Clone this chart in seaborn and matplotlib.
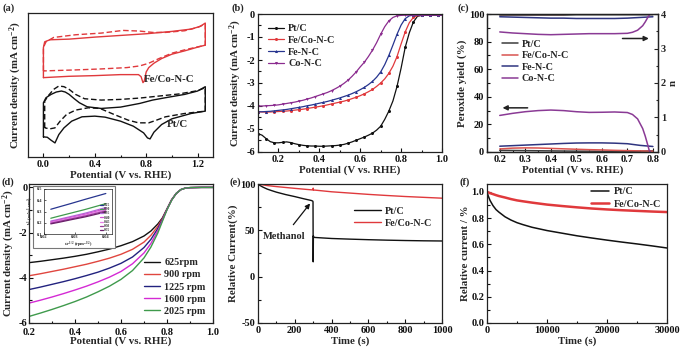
import matplotlib
matplotlib.use("Agg")
import matplotlib.pyplot as plt
import seaborn as sns
from matplotlib.ticker import MultipleLocator
from matplotlib.patches import Rectangle

# ---------------- data ----------------
# (a) cyclic voltammograms (V vs RHE, arbitrary current units)
a_fe_solid_v = [0.00, 0.00, 0.01, 0.05, 0.20, 0.40, 0.60, 0.80, 1.00, 1.15, 1.22, 1.26, 1.26, 1.20, 1.10, 1.00, 0.92,
                0.86, 0.82, 0.80, 0.785, 0.775, 0.76, 0.74, 0.60, 0.40, 0.20, 0.05, 0.00]
a_fe_solid_j = [0.65, 1.55, 1.72, 1.78, 1.80, 1.86, 1.91, 1.96, 2.03, 2.10, 2.18, 2.28, 1.62, 1.56, 1.45, 1.35, 1.22,
                1.08, 0.95, 0.82, 0.55, 0.50, 0.68, 0.74, 0.74, 0.71, 0.69, 0.66, 0.65]
a_fe_dash_v = [0.00, 0.00, 0.02, 0.08, 0.25, 0.45, 0.62, 0.75, 0.85, 0.95, 1.10, 1.20, 1.26, 1.26, 1.10, 1.00, 0.90,
               0.82, 0.75, 0.65, 0.45, 0.25, 0.08, 0.00]
a_fe_dash_j = [0.85, 1.55, 1.72, 1.85, 1.93, 1.98, 2.06, 2.04, 2.00, 2.00, 2.05, 2.15, 2.25, 1.62, 1.48, 1.38, 1.22,
               1.08, 1.00, 0.95, 0.91, 0.88, 0.86, 0.85]
a_pt_solid_v = [0.00, 0.00, 0.02, 0.06, 0.10, 0.14, 0.17, 0.20, 0.24, 0.28, 0.34, 0.45, 0.60, 0.75, 0.85, 0.95, 1.10,
                1.20, 1.26, 1.26, 1.15, 1.00, 0.92, 0.86, 0.83, 0.81, 0.78, 0.70, 0.60, 0.48, 0.40, 0.30, 0.22,
                0.16, 0.12, 0.09, 0.06, 0.03, 0.00]
a_pt_solid_j = [-1.12, -0.10, 0.05, 0.15, 0.22, 0.25, 0.22, 0.15, 0.02, -0.10, -0.22, -0.27, -0.23, -0.12, -0.02,
                0.05, 0.15, 0.25, 0.38, -0.35, -0.42, -0.58, -0.75, -0.98, -1.18, -1.15, -1.00, -0.80, -0.65,
                -0.53, -0.50, -0.52, -0.65, -0.85, -1.05, -1.30, -1.22, -1.13, -1.12]
a_pt_dash_v = [0.01, 0.01, 0.04, 0.08, 0.12, 0.16, 0.20, 0.25, 0.32, 0.45, 0.60, 0.75, 0.90, 1.05, 1.20, 1.26, 1.26,
               1.10, 0.95, 0.88, 0.82, 0.74, 0.66, 0.55, 0.44, 0.35, 0.25, 0.18, 0.13, 0.09, 0.05, 0.01]
a_pt_dash_j = [-0.85, -0.05, 0.12, 0.30, 0.40, 0.38, 0.30, 0.15, 0.02, -0.02, 0.00, 0.04, 0.10, 0.16, 0.26, 0.35,
               -0.35, -0.42, -0.52, -0.62, -0.70, -0.70, -0.62, -0.45, -0.27, -0.25, -0.32, -0.45, -0.65, -0.85,
               -0.88, -0.85]

# (b) LSV curves at 1600 rpm
b_v = [0.10, 0.12, 0.14, 0.16, 0.18, 0.20, 0.22, 0.24, 0.26, 0.28, 0.30, 0.32, 0.34, 0.36, 0.38, 0.40, 0.42, 0.44,
       0.46, 0.48, 0.50, 0.52, 0.54, 0.56, 0.58, 0.60, 0.62, 0.64, 0.66, 0.68, 0.70, 0.72, 0.74, 0.76, 0.78, 0.80,
       0.82, 0.84, 0.86, 0.88, 0.90, 0.92, 0.94, 0.96, 0.98, 1.00]
b_pt = [-5.20, -5.27, -5.42, -5.55, -5.60, -5.60, -5.58, -5.56, -5.59, -5.64, -5.68, -5.71, -5.73, -5.74, -5.74,
        -5.75, -5.75, -5.74, -5.73, -5.72, -5.70, -5.67, -5.62, -5.56, -5.49, -5.42, -5.35, -5.27, -5.18, -5.05,
        -4.88, -4.58, -4.22, -3.78, -3.15, -2.35, -1.45, -0.82, -0.35, -0.10, -0.06, -0.05, -0.05, -0.05, -0.05,
        -0.05]
b_feco = [-4.25, -4.26, -4.26, -4.26, -4.25, -4.24, -4.23, -4.22, -4.20, -4.18, -4.16, -4.14, -4.11, -4.08, -4.05,
          -4.02, -3.99, -3.95, -3.91, -3.87, -3.83, -3.79, -3.74, -3.68, -3.62, -3.55, -3.47, -3.38, -3.28, -3.15,
          -3.00, -2.82, -2.58, -2.27, -1.85, -1.30, -0.78, -0.38, -0.15, -0.07, -0.06, -0.06, -0.06, -0.06, -0.06,
          -0.06]
b_fe = [-4.25, -4.25, -4.24, -4.23, -4.21, -4.19, -4.17, -4.15, -4.12, -4.09, -4.06, -4.03, -3.99, -3.96, -3.92,
        -3.88, -3.84, -3.80, -3.75, -3.70, -3.65, -3.59, -3.53, -3.46, -3.38, -3.29, -3.19, -3.07, -2.93, -2.75,
        -2.52, -2.20, -1.80, -1.35, -0.88, -0.48, -0.20, -0.08, -0.05, -0.05, -0.05, -0.05, -0.05, -0.05, -0.05,
        -0.05]
b_co = [-4.00, -4.00, -3.99, -3.98, -3.97, -3.95, -3.92, -3.89, -3.86, -3.83, -3.79, -3.75, -3.70, -3.65, -3.59,
        -3.53, -3.47, -3.41, -3.33, -3.24, -3.14, -3.02, -2.88, -2.71, -2.52, -2.30, -2.10, -1.85, -1.57, -1.25,
        -0.88, -0.55, -0.30, -0.15, -0.08, -0.06, -0.05, -0.05, -0.05, -0.05, -0.05, -0.05, -0.05, -0.05, -0.05,
        -0.05]

# (c) peroxide yield (%) and electron transfer number n
c_v = [0.20, 0.25, 0.30, 0.35, 0.40, 0.45, 0.50, 0.55, 0.60, 0.65, 0.70, 0.75, 0.80]
c_pt_h2o2 = [1.2, 1.1, 1.0, 0.9, 0.8, 0.7, 0.6, 0.6, 0.5, 0.5, 0.5, 0.6, 0.8]
c_pt_n = [3.97, 3.97, 3.97, 3.97, 3.97, 3.97, 3.98, 3.98, 3.98, 3.98, 3.98, 3.98, 3.98]
c_feco_h2o2 = [2.2, 2.8, 3.0, 2.9, 2.6, 2.3, 2.0, 1.7, 1.5, 1.2, 1.0, 0.8, 0.6]
c_feco_n = [3.99, 3.99, 3.99, 3.99, 3.99, 3.99, 4.00, 4.00, 4.00, 4.00, 4.00, 4.00, 4.00]
c_fe_h2o2 = [4.2, 4.6, 5.0, 5.4, 5.8, 6.2, 6.5, 6.6, 6.6, 6.4, 6.0, 4.8, 4.0]
c_fe_n = [3.92, 3.91, 3.90, 3.89, 3.88, 3.88, 3.87, 3.87, 3.87, 3.87, 3.88, 3.90, 3.92]
c_co_v = [0.20, 0.25, 0.30, 0.35, 0.40, 0.45, 0.50, 0.55, 0.60, 0.65, 0.70, 0.72, 0.74, 0.76, 0.77, 0.78, 0.785, 0.79]
c_co_h2o2 = [26.5, 28.0, 29.2, 30.0, 30.4, 30.0, 29.2, 28.7, 28.8, 29.0, 28.6, 27.2, 24.0, 17.0, 11.5, 5.0, 1.5, 0.0]
c_co_n = [3.48, 3.45, 3.43, 3.41, 3.40, 3.41, 3.42, 3.43, 3.43, 3.43, 3.44, 3.47, 3.53, 3.66, 3.77, 3.90, 3.96, 4.00]

# (d) LSV of Fe/Co-N-C at different rotation rates
d_v = [0.20, 0.25, 0.30, 0.35, 0.40, 0.45, 0.50, 0.55, 0.60, 0.65, 0.70, 0.73, 0.76, 0.78, 0.80, 0.82, 0.84, 0.86,
       0.88, 0.90, 0.95, 1.00]
d_625 = [-3.33, -3.27, -3.20, -3.13, -3.05, -2.96, -2.85, -2.73, -2.58, -2.40, -2.15, -1.93, -1.62, -1.35, -0.95,
         -0.55, -0.27, -0.10, -0.03, -0.01, 0.0, 0.0]
d_900 = [-3.91, -3.82, -3.72, -3.62, -3.51, -3.40, -3.27, -3.13, -2.96, -2.74, -2.42, -2.12, -1.72, -1.38, -0.96,
         -0.55, -0.27, -0.10, -0.03, -0.01, 0.0, 0.0]
d_1225 = [-4.52, -4.41, -4.29, -4.17, -4.04, -3.90, -3.75, -3.57, -3.36, -3.08, -2.66, -2.30, -1.82, -1.42, -0.97,
          -0.56, -0.27, -0.10, -0.03, -0.01, 0.0, 0.0]
d_1600 = [-5.12, -4.99, -4.85, -4.70, -4.54, -4.37, -4.18, -3.97, -3.72, -3.38, -2.90, -2.48, -1.92, -1.46, -0.98,
          -0.56, -0.27, -0.10, -0.03, -0.01, 0.0, 0.0]
d_2025 = [-5.71, -5.56, -5.40, -5.23, -5.05, -4.85, -4.62, -4.37, -4.07, -3.68, -3.12, -2.64, -2.02, -1.50, -0.99,
          -0.57, -0.27, -0.10, -0.03, -0.01, 0.0, 0.0]
d_labels = ["625rpm", "900 rpm", "1225 rpm", "1600 rpm", "2025 rpm"]
# inset: Koutecky-Levich plots
kl_x = [0.0222, 0.0250, 0.0286, 0.0333, 0.0400]
kl_lines = [[0.320, 0.342, 0.370, 0.408, 0.460],
            [0.240, 0.260, 0.285, 0.318, 0.370],
            [0.215, 0.232, 0.255, 0.285, 0.335],
            [0.208, 0.225, 0.247, 0.276, 0.325],
            [0.202, 0.218, 0.240, 0.268, 0.315],
            [0.196, 0.212, 0.233, 0.260, 0.305],
            [0.190, 0.205, 0.226, 0.252, 0.296]]
kl_labels = ["0.25", "0.30", "0.35", "0.40", "0.45", "0.50", "0.55"]

# (e) methanol tolerance
e_t_pt = [0, 10, 25, 50, 75, 100, 150, 200, 250, 290, 298, 299, 300, 301, 303, 310, 350, 400, 500, 600, 700, 800,
          900, 1000]
e_pt = [100, 98.5, 96.8, 94.5, 92.8, 91.2, 88.6, 86.4, 84.0, 82.2, 81.5, 80.5, 16.0, 44.0, 42.5, 42.3, 41.8, 41.2,
        40.5, 39.9, 39.4, 39.0, 38.7, 38.5]
e_t_feco = [0, 50, 100, 200, 290, 298, 300, 302, 310, 400, 500, 600, 700, 800, 900, 1000]
e_feco = [100, 98.3, 97.2, 95.3, 93.7, 93.6, 95.5, 93.4, 93.4, 91.6, 90.2, 88.8, 87.6, 86.5, 85.6, 84.7]

# (f) durability
f_t = [0, 200, 500, 1000, 1500, 2000, 3000, 4000, 5000, 6000, 7500, 10000, 12500, 15000, 17500, 20000, 22500, 25000,
       27500, 30000]
f_pt = [1.0, 0.97, 0.935, 0.895, 0.865, 0.845, 0.81, 0.785, 0.765, 0.75, 0.73, 0.705, 0.685, 0.665, 0.648, 0.632,
        0.617, 0.603, 0.588, 0.572]
f_feco = [1.0, 0.997, 0.99, 0.983, 0.975, 0.968, 0.957, 0.945, 0.935, 0.928, 0.918, 0.903, 0.892, 0.882, 0.873,
          0.866, 0.86, 0.855, 0.85, 0.846]

# ---------------- style ----------------
sns.set_theme(style="ticks")
plt.rcParams.update({
    "font.family": ["Liberation Serif", "DejaVu Serif"],
    "font.weight": "bold",
    "axes.labelweight": "bold",
    "font.size": 7.5,
    "axes.labelsize": 7.8,
    "xtick.labelsize": 7.5,
    "ytick.labelsize": 7.5,
    "legend.fontsize": 7.3,
    "axes.unicode_minus": False,
    "mathtext.fontset": "custom",
    "mathtext.rm": "Liberation Serif:bold",
    "mathtext.it": "Liberation Serif:bold:italic",
    "mathtext.bf": "Liberation Serif:bold",
    "mathtext.default": "rm",
    "axes.linewidth": 0.9,
    "axes.edgecolor": "#222222",
})

BLACK = "#111111"
RED = "#e0393c"
BLUE = "#27358f"
PURPLE = "#8b2c8f"

W, H = 692, 351
fig = plt.figure(figsize=(W / 100, H / 100), dpi=100)


def add_ax(l, t, r, b):
    return fig.add_axes([l / W, 1 - b / H, (r - l) / W, (b - t) / H])


def style(ax, xmaj, xmin, ymaj=None, ymin=None):
    ax.tick_params(which="both", direction="in", width=0.8, pad=2, colors="#111111")
    ax.tick_params(which="major", length=3)
    ax.tick_params(which="minor", length=1.8)
    ax.xaxis.set_major_locator(MultipleLocator(xmaj))
    ax.xaxis.set_minor_locator(MultipleLocator(xmin))
    if ymaj is not None:
        ax.yaxis.set_major_locator(MultipleLocator(ymaj))
    if ymin is not None:
        ax.yaxis.set_minor_locator(MultipleLocator(ymin))
    for lab in ax.get_xticklabels() + ax.get_yticklabels():
        lab.set_fontweight("bold")


def panel_label(x, y, s):
    fig.text(x / W, 1 - y / H, s, fontsize=7.5, fontweight="bold", va="top", ha="left")


YLAB_J = "Current density (mA cm$^{-2}$)"
XLAB_V = "Potential (V vs. RHE)"

# ---------- (a) ----------
ax = add_ax(28, 13, 213, 157)
sns.lineplot(x=a_fe_solid_v, y=a_fe_solid_j, sort=False, estimator=None, color=RED, lw=1.0, ax=ax)
sns.lineplot(x=a_fe_dash_v, y=a_fe_dash_j, sort=False, estimator=None, color=RED, lw=1.0, ls=(0, (4, 2)), ax=ax)
sns.lineplot(x=a_pt_solid_v, y=a_pt_solid_j, sort=False, estimator=None, color=BLACK, lw=1.0, ax=ax)
sns.lineplot(x=a_pt_dash_v, y=a_pt_dash_j, sort=False, estimator=None, color=BLACK, lw=1.0, ls=(0, (4, 2)), ax=ax)
ax.set_xlim(-0.12, 1.32)
ax.set_ylim(-1.72, 2.58)
style(ax, 0.4, 0.2)
ax.set_yticks([])
ax.set_xlabel(XLAB_V, labelpad=1)
ax.set_ylabel(YLAB_J, labelpad=3)
ax.text(0.98, 0.60, "Fe/Co-N-C", ha="center", va="center", fontsize=7.8, fontweight="bold")
ax.text(1.045, -0.75, "Pt/C", ha="center", va="center", fontsize=7.8, fontweight="bold")
panel_label(3, 3, "(a)")

# ---------- (b) ----------
ax = add_ax(258, 14, 442, 152)
for ys, col, mk, lab in [(b_pt, BLACK, "o", "Pt/C"), (b_feco, RED, "o", "Fe/Co-N-C"),
                         (b_fe, BLUE, "^", "Fe-N-C"), (b_co, PURPLE, "v", "Co-N-C")]:
    sns.lineplot(x=b_v, y=ys, color=col, lw=0.9, marker=mk, markersize=2.2, markeredgewidth=0,
                 markevery=2, label=lab, ax=ax)
ax.set_xlim(0.1, 1.0)
ax.set_ylim(-6, 0)
style(ax, 0.2, 0.1, 1, 0.5)
ax.set_xlabel(XLAB_V, labelpad=1)
ax.set_ylabel(YLAB_J, labelpad=2)
ax.legend(loc="upper left", bbox_to_anchor=(0.02, 0.97), frameon=False, handlelength=1.6, labelspacing=0.25,
          handletextpad=0.4, borderaxespad=0.2, prop={"weight": "bold", "size": 7.3})
panel_label(231, 3, "(b)")

# ---------- (c) ----------
ax = add_ax(487, 14, 658, 152)
ax2 = ax.twinx()
C_PT, C_FECO, C_FE, C_CO = "#3c3c3c", "#d9534f", "#2f3580", "#8a3a95"
for xs, ys, col, lab in [(c_v, c_pt_h2o2, C_PT, "Pt/C"), (c_v, c_feco_h2o2, C_FECO, "Fe/Co-N-C"),
                         (c_v, c_fe_h2o2, C_FE, "Fe-N-C"), (c_co_v, c_co_h2o2, C_CO, "Co-N-C")]:
    sns.lineplot(x=xs, y=ys, color=col, lw=1.1, label=lab, ax=ax)
for xs, ys, col in [(c_v, c_pt_n, C_PT), (c_v, c_fe_n, C_FE), (c_v, c_feco_n, C_FECO), (c_co_v, c_co_n, C_CO)]:
    sns.lineplot(x=xs, y=ys, color=col, lw=1.1, ax=ax2, legend=False)
ax.set_xlim(0.15, 0.82)
ax.set_ylim(0, 100)
ax2.set_ylim(0, 4)
style(ax, 0.1, 0.05, 20, 10)
ax2.tick_params(which="both", direction="in", width=0.8, pad=2)
ax2.tick_params(which="major", length=3)
ax2.tick_params(which="minor", length=1.8)
ax2.yaxis.set_major_locator(MultipleLocator(1))
ax2.yaxis.set_minor_locator(MultipleLocator(0.5))
for lab in ax2.get_yticklabels():
    lab.set_fontweight("bold")
ax.set_xlabel(XLAB_V, labelpad=1)
ax.set_ylabel("Peroxide yield (%)", labelpad=1)
ax2.set_ylabel("n", labelpad=2, fontweight="bold")
ax.legend(loc="upper left", bbox_to_anchor=(0.05, 0.86), frameon=False, handlelength=1.6, labelspacing=0.25,
          handletextpad=0.4, borderaxespad=0.2, prop={"weight": "bold", "size": 7.3})
ax.annotate("", xy=(0.20, 32), xytext=(0.32, 32),
            arrowprops=dict(arrowstyle="-|>", color="#222222", lw=1.1, mutation_scale=7))
ax2.annotate("", xy=(0.795, 3.29), xytext=(0.67, 3.29),
             arrowprops=dict(arrowstyle="-|>", color="#222222", lw=1.1, mutation_scale=7))
panel_label(457, 3, "(c)")

# ---------- (d) ----------
ax = add_ax(29, 184, 213, 323)
D_COLS = [BLACK, "#e0463f", "#22227f", "#d42ad4", "#3f9a4c"]
for ys, col, lab in zip([d_625, d_900, d_1225, d_1600, d_2025], D_COLS, d_labels):
    sns.lineplot(x=d_v, y=ys, color=col, lw=1.0, label=lab, ax=ax)
ax.set_xlim(0.2, 1.0)
ax.set_ylim(-6, 0.15)
style(ax, 0.2, 0.1, 2, 1)
ax.tick_params(axis="y", pad=1)
ax.tick_params(axis="x", pad=3.5)
ax.set_xlabel(XLAB_V, labelpad=0)
ax.set_ylabel(YLAB_J, labelpad=1)
ax.legend(loc="lower right", bbox_to_anchor=(1.0, 0.0), frameon=False, handlelength=1.6, labelspacing=0.3,
          handletextpad=0.4, borderaxespad=0.3, prop={"weight": "bold", "size": 7.3})
panel_label(2, 177, "(d)")

# inset frame + inset axes
fig.patches.append(Rectangle((33 / W, 1 - 248 / H), 82 / W, 62 / H, transform=fig.transFigure,
                             fill=True, facecolor="white", edgecolor="#777777", lw=0.8, zorder=5))
axi = add_ax(44, 189, 112, 234)
axi.set_zorder(6)
KL_COLS = [BLUE, "#3f9a4c", "#b06ad8", "#d04fd0", "#e77fe8", "#9a3a9a", "#6a1f6a"]
for ys, col, lab in zip(kl_lines, KL_COLS, kl_labels):
    sns.lineplot(x=kl_x, y=ys, color=col, lw=0.9, label=lab, ax=axi)
axi.set_xlim(0.02, 0.042)
axi.set_ylim(0.1, 0.5)
axi.set_xticks([0.02, 0.03, 0.04])
axi.set_yticks([0.1, 0.2, 0.3, 0.4, 0.5])
axi.tick_params(direction="in", length=1.5, width=0.5, labelsize=3.2, pad=1)
for s in axi.spines.values():
    s.set_linewidth(0.5)
axi.set_xlabel("$\\omega^{-1/2}$ (rpm$^{-1/2}$)", fontsize=3.2, labelpad=0.5)
axi.set_ylabel("J$^{-1}$ (mA$^{-1}$ cm$^{2}$)", fontsize=3.2, labelpad=0.5)
axi.legend(loc="lower right", frameon=False, handlelength=0.8, labelspacing=0.05, handletextpad=0.2,
           borderaxespad=0.1, prop={"size": 2.6})

# ---------- (e) ----------
ax = add_ax(258, 184, 442, 323)
sns.lineplot(x=e_t_pt, y=e_pt, color=BLACK, lw=1.0, label="Pt/C", ax=ax)
sns.lineplot(x=e_t_feco, y=e_feco, color=RED, lw=1.0, label="Fe/Co-N-C", ax=ax)
ax.set_xlim(0, 1000)
ax.set_ylim(-50, 100)
style(ax, 200, 100, 50, 25)
ax.set_xlabel("Time (s)", labelpad=1)
ax.set_ylabel("Relative Current(%)", labelpad=1)
ax.legend(loc="upper right", bbox_to_anchor=(0.98, 0.88), frameon=False, handlelength=2.6, labelspacing=0.3,
          handletextpad=0.4, borderaxespad=0.2, prop={"weight": "bold", "size": 7.3})
ax.annotate("Methanol", xy=(283, 79), xytext=(140, 43), ha="center", va="center", fontsize=7.5, fontweight="bold",
            arrowprops=dict(arrowstyle="-|>", color=BLACK, lw=0.9, mutation_scale=7, shrinkA=4, shrinkB=0))
panel_label(229, 177, "(e)")

# ---------- (f) ----------
ax = add_ax(487, 184, 667, 323)
sns.lineplot(x=f_t, y=f_pt, color=BLACK, lw=1.1, label="Pt/C", ax=ax)
sns.lineplot(x=f_t, y=f_feco, color=RED, lw=1.8, label="Fe/Co-N-C", ax=ax)
ax.set_xlim(0, 30000)
ax.set_ylim(0, 1.06)
style(ax, 10000, 5000, 0.2, 0.1)
ax.set_xlabel("Time (s)", labelpad=1)
ax.set_ylabel("Relative current / %", labelpad=1)
ax.legend(loc="upper right", bbox_to_anchor=(1.0, 1.02), frameon=False, handlelength=1.8, labelspacing=0.3,
          handletextpad=0.4, borderaxespad=0.2, prop={"weight": "bold", "size": 7.3})
panel_label(459, 177, "(f)")

fig.savefig("out.png", dpi=100)
